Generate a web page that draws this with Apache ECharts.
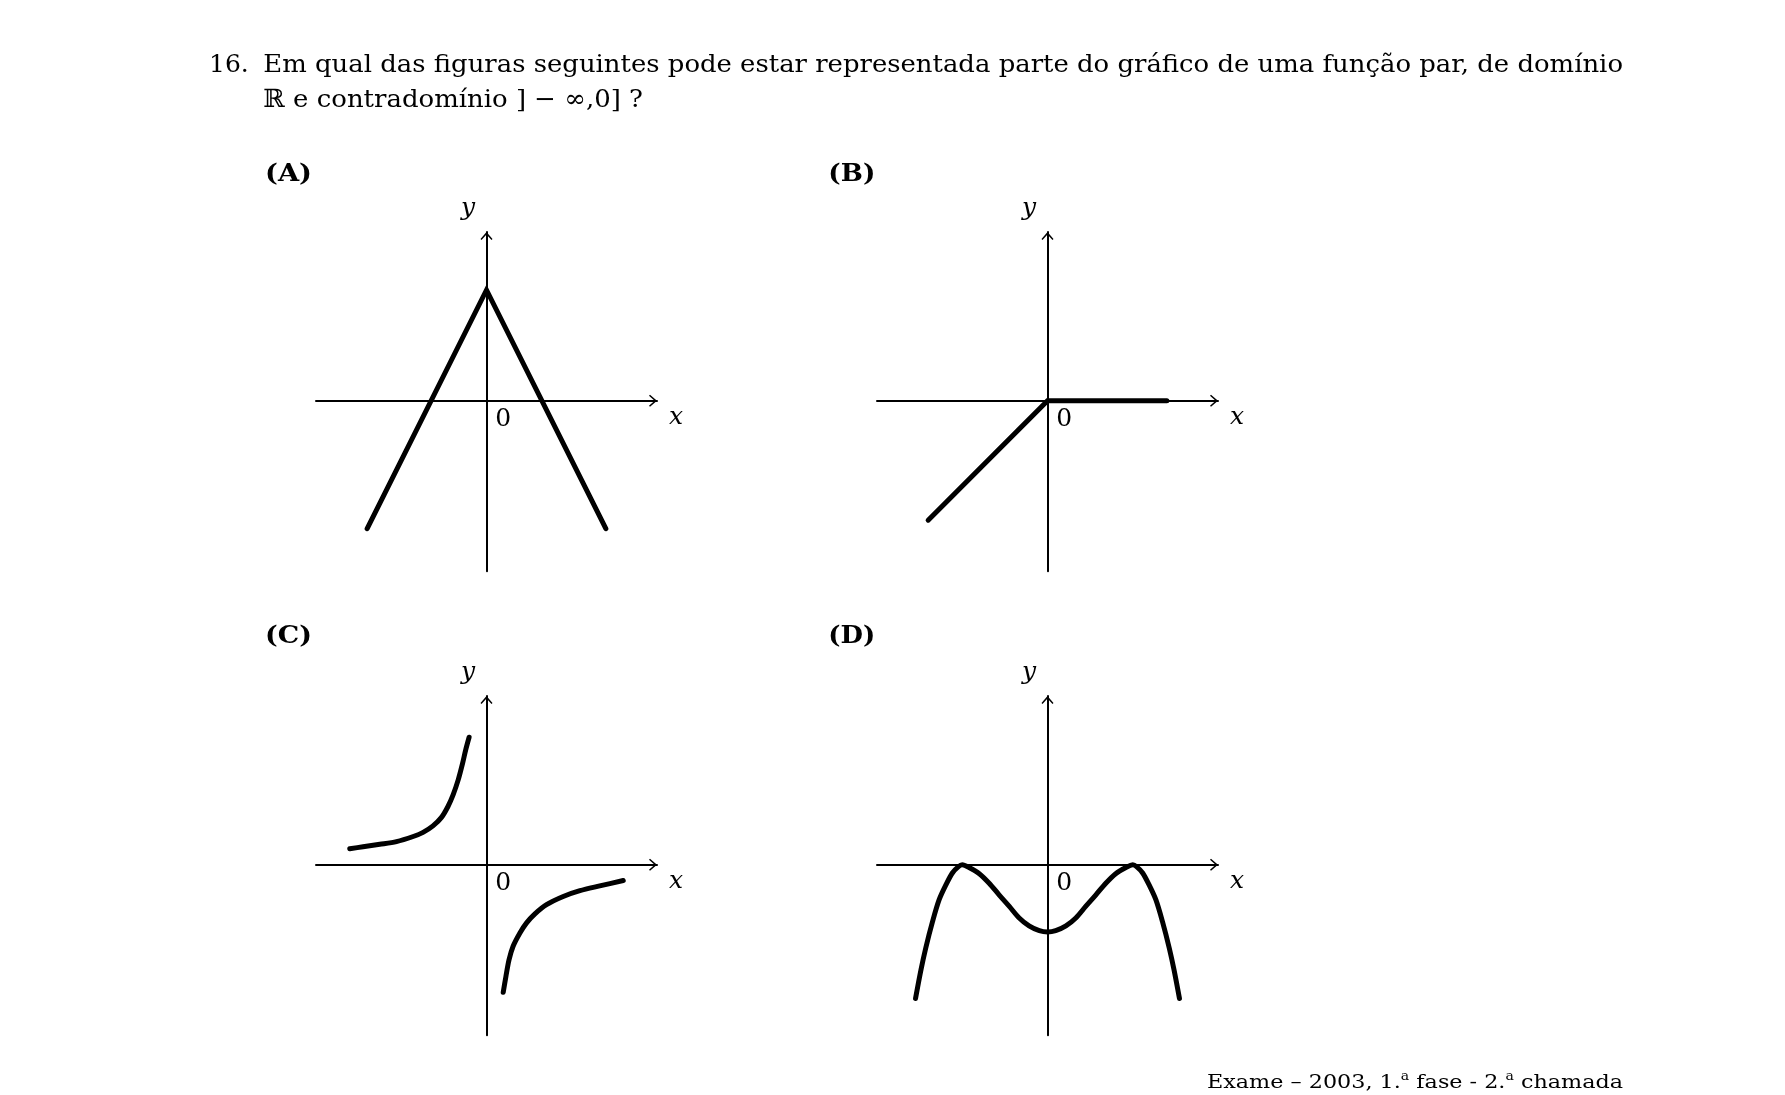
<!DOCTYPE html>
<html>
<head>
<meta charset="utf-8">
<script src="https://cdn.jsdelivr.net/npm/echarts@6/dist/echarts.min.js"></script>
<style>
html,body{margin:0;padding:0;background:#fff;}
#main{width:1785px;height:1095px;}
</style>
</head>
<body>
<div id="main"></div>
<script>
// ---------------- data ----------------
const questionNumber = '16.';
const questionLine1 = 'Em qual das figuras seguintes pode estar representada parte do gráfico de uma função par, de domínio';
const questionLine2 = 'ℝ e contradomínio ] − ∞,0] ?';
const panelLetters = ['(A)', '(B)', '(C)', '(D)'];
const axisNameX = 'x';
const axisNameY = 'y';
const originLabel = '0';
const footerParts = ['Exame – 2003, 1.', 'a', ' fase - 2.', 'a', ' chamada'];

const xRange = [-5, 5];
const yRange = [-5, 4.95];

// (A) "tent" shape
const curveA = [[-3.5, -3.75], [0, 3.25], [3.5, -3.75]];
// (B) line up to origin, then flat
const curveB = [[-3.5, -3.5], [0, 0], [3.5, 0]];
// (C) two hyperbola-like branches
const curveCLeft = [[-4.01, 0.47], [-3.62, 0.53], [-3.13, 0.60], [-2.64, 0.68], [-2.15, 0.83], [-1.86, 0.95], [-1.57, 1.14],
                    [-1.32, 1.39], [-1.13, 1.71], [-0.98, 2.05], [-0.83, 2.49], [-0.70, 2.98], [-0.61, 3.37], [-0.51, 3.74]];
const curveCRight = [[0.49, -3.74], [0.57, -3.27], [0.66, -2.79], [0.78, -2.39], [0.98, -2.00], [1.17, -1.71], [1.42, -1.44],
                     [1.76, -1.17], [2.25, -0.93], [2.74, -0.76], [3.32, -0.62], [4.01, -0.46]];
// (D) curve with two maxima touching the x-axis
const curveD = [[-3.87, -3.92], [-3.71, -3.08], [-3.57, -2.44], [-3.37, -1.66], [-3.18, -1.03], [-2.98, -0.59], [-2.79, -0.24],
                [-2.62, -0.06], [-2.50, 0], [-2.30, -0.08], [-2.00, -0.26], [-1.71, -0.54], [-1.42, -0.88], [-1.12, -1.22],
                [-0.83, -1.56], [-0.54, -1.79], [-0.24, -1.93], [0, -1.97],
                [0.24, -1.93], [0.54, -1.79], [0.83, -1.56], [1.12, -1.22], [1.42, -0.88], [1.71, -0.54], [2.00, -0.26],
                [2.30, -0.08], [2.50, 0], [2.62, -0.06], [2.79, -0.24], [2.98, -0.59], [3.18, -1.03], [3.37, -1.66],
                [3.57, -2.44], [3.71, -3.08], [3.87, -3.92]];

// ---------------- layout / style ----------------
const SERIF = '"DejaVu Serif", "Liberation Serif", serif';
const ARROW = 'path://M6,0 L12,7 L11,8 L6,2.4 L1,8 L0,7 Z';
const PX_PER_UNIT = 34.1;
const gridOrigins = [[316, 232], [877, 232], [316, 696], [877, 696]];
const grids = gridOrigins.map(o => ({
  left: o[0], top: o[1],
  width: (xRange[1] - xRange[0]) * PX_PER_UNIT,
  height: (yRange[1] - yRange[0]) * PX_PER_UNIT
}));

const chart = echarts.init(document.getElementById('main'), null, {renderer: 'canvas'});

function axisCommon(i, range) {
  return {
    type: 'value', gridIndex: i, min: range[0], max: range[1],
    axisLine: {show: true, onZero: true, symbol: ['none', ARROW], symbolSize: [12, 8], symbolOffset: [0, -4],
               lineStyle: {color: '#000', width: 2}},
    axisTick: {show: false}, axisLabel: {show: false}, splitLine: {show: false}
  };
}

const lineStyle = {color: '#000', width: 5, cap: 'round', join: 'round'};
function lineSeries(i, data, smooth) {
  return {type: 'line', xAxisIndex: i, yAxisIndex: i, data: data, symbol: 'none', showSymbol: false,
          smooth: smooth, clip: false, silent: true,
          lineStyle: Object.assign({}, lineStyle, smooth ? {} : {join: 'miter'}), emphasis: {disabled: true}};
}

const option = {
  backgroundColor: '#fff',
  animation: false,
  grid: grids.map(g => Object.assign({containLabel: false, outerBoundsMode: 'none'}, g)),
  xAxis: grids.map((g, i) => axisCommon(i, xRange)),
  yAxis: grids.map((g, i) => axisCommon(i, yRange)),
  series: [
    lineSeries(0, curveA, false),
    lineSeries(1, curveB, false),
    lineSeries(2, curveCLeft, 0.3),
    lineSeries(2, curveCRight, 0.3),
    lineSeries(3, curveD, 0.3)
  ]
};
chart.setOption(option);

// ---------------- texts ----------------
const mctx = document.createElement('canvas').getContext('2d');
function measure(str, size, weight, style) {
  mctx.font = (style || 'normal') + ' ' + (weight || 'normal') + ' ' + size + 'px ' + SERIF;
  return mctx.measureText(str).width;
}
function fitText(str, left, right, cy, size) {
  const w = measure(str, size);
  return {
    type: 'text', x: left, y: cy, scaleX: (right - left) / w, silent: true,
    style: {text: str, fontSize: size, fontFamily: SERIF, fill: '#000', align: 'left', verticalAlign: 'middle'}
  };
}

const gfx = [];
const TITLE_SIZE = 25;
const RIGHT_MARGIN = 1623;
gfx.push({type: 'text', x: 209, y: 65, silent: true,
  style: {text: questionNumber, fontSize: TITLE_SIZE, fontFamily: SERIF, fill: '#000', align: 'left', verticalAlign: 'middle'}});
gfx.push(fitText(questionLine1, 263.3, RIGHT_MARGIN, 65, TITLE_SIZE));
gfx.push(fitText(questionLine2, 263.3, 643, 100, TITLE_SIZE));

// panel letters
const letterPos = [[265, 174], [828.3, 174], [265, 636], [828.3, 636]];
panelLetters.forEach((t, i) => {
  const w = measure(t, 25, 'bold');
  gfx.push({type: 'text', x: letterPos[i][0], y: letterPos[i][1], scaleX: 47 / w, silent: true,
    style: {text: t, fontSize: 25, fontWeight: 'bold', fontFamily: SERIF, fill: '#000', align: 'left', verticalAlign: 'middle'}});
});

// axis names and origin label for each panel
grids.forEach((g, i) => {
  const pEnd = chart.convertToPixel({gridIndex: i}, [xRange[1], 0]);
  const pTop = chart.convertToPixel({gridIndex: i}, [0, yRange[1]]);
  const pOrg = chart.convertToPixel({gridIndex: i}, [0, 0]);
  gfx.push({type: 'text', x: pEnd[0] + 19, y: pEnd[1] + 17, silent: true,
    style: {text: axisNameX, fontSize: 25, fontStyle: 'italic', fontFamily: SERIF, fill: '#000', align: 'center', verticalAlign: 'middle'}});
  gfx.push({type: 'text', x: pTop[0] - 18.5, y: pTop[1] - 24, silent: true,
    style: {text: axisNameY, fontSize: 25, fontStyle: 'italic', fontFamily: SERIF, fill: '#000', align: 'center', verticalAlign: 'middle'}});
  gfx.push({type: 'text', x: pOrg[0] + 16.6, y: pOrg[1] + 18.5, silent: true,
    style: {text: originLabel, fontSize: 25, fontFamily: SERIF, fill: '#000', align: 'center', verticalAlign: 'middle'}});
});

// footer
const FS = 19, SS = 12;
let footW = 0;
footerParts.forEach((p, k) => { footW += measure(p, (k % 2 === 1) ? SS : FS); });
const footLeft = 1207;
gfx.push({type: 'text', x: footLeft, y: 1083, scaleX: (RIGHT_MARGIN - footLeft) / footW, silent: true,
  style: {
    text: footerParts.map((p, k) => (k % 2 === 1 ? '{s|' : '{m|') + p + '}').join(''),
    align: 'left', verticalAlign: 'middle', fill: '#000',
    rich: {
      m: {fontSize: FS, fontFamily: SERIF, lineHeight: 24, verticalAlign: 'middle', fill: '#000'},
      s: {fontSize: SS, fontFamily: SERIF, lineHeight: 15, verticalAlign: 'top', fill: '#000'}
    }
  }});

chart.setOption({graphic: gfx});
</script>
</body>
</html>
